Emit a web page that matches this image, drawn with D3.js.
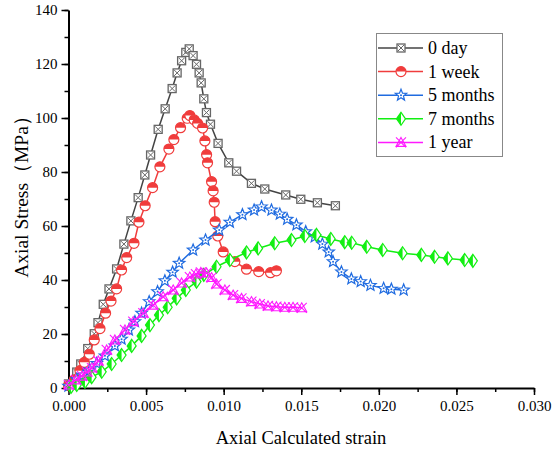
<!DOCTYPE html>
<html>
<head>
<meta charset="utf-8">
<script src="https://cdn.jsdelivr.net/npm/d3@7"></script>
<style>
  html, body { margin: 0; padding: 0; background: #fff; }
  svg { display: block; }
  text { font-family: "Liberation Serif", "Times New Roman", serif; fill: #000; }
</style>
</head>
<body>
<svg id="chart" width="552" height="452"></svg>
<script>
// Stress-strain curves of specimens at different ages
const seriesNames = ["0 day", "1 week", "5 months", "7 months", "1 year"];

const strain0d = [0, 0.00053, 0.00079, 0.00124, 0.00166, 0.00190, 0.00224, 0.00261, 0.00310, 0.00357, 0.00402, 0.00449, 0.00492, 0.00529, 0.00578, 0.00623, 0.00668, 0.00700, 0.00729, 0.00756, 0.00778, 0.00803, 0.00825, 0.00842, 0.00855, 0.00872, 0.00889, 0.00915, 0.00964, 0.01033, 0.01083, 0.01179, 0.01265, 0.01400, 0.01497, 0.01604, 0.01720];
const stress0d = [1.5, 5.9, 8.9, 14.6, 20.1, 24.2, 31.0, 36.7, 44.1, 53.3, 61.9, 70.5, 78.9, 86.3, 95.8, 103.4, 110.9, 116.7, 121.2, 124.3, 125.6, 123.1, 119.9, 116.7, 113.0, 107.1, 102.0, 97.7, 90.6, 83.4, 80.3, 75.8, 73.7, 71.5, 69.9, 68.6, 67.5];

const strain1w = [0, 0.00037, 0.00074, 0.00102, 0.00134, 0.00166, 0.00203, 0.00239, 0.00274, 0.00310, 0.00342, 0.00375, 0.00422, 0.00454, 0.00494, 0.00542, 0.00589, 0.00647, 0.00679, 0.00722, 0.00765, 0.00782, 0.00810, 0.00832, 0.00864, 0.00879, 0.00890, 0.00896, 0.00922, 0.00932, 0.00939, 0.00945, 0.00962, 0.00997, 0.01072, 0.01147, 0.01226, 0.01302, 0.01340];
const stress1w = [0.9, 3.0, 6.4, 9.5, 12.5, 17.8, 22.0, 27.7, 32.2, 36.7, 43.7, 48.3, 53.6, 61.4, 67.5, 74.2, 81.9, 88.5, 92.0, 96.4, 99.9, 100.9, 99.3, 98.0, 96.3, 91.5, 86.4, 83.4, 76.4, 73.0, 68.8, 61.6, 56.3, 50.4, 46.8, 44.0, 43.1, 42.7, 43.4];

const strain5m = [0, 0.00053, 0.00095, 0.00138, 0.00182, 0.00235, 0.00299, 0.00342, 0.00389, 0.00428, 0.00471, 0.00520, 0.00574, 0.00621, 0.00671, 0.00713, 0.00803, 0.00883, 0.00971, 0.01040, 0.01121, 0.01196, 0.01244, 0.01308, 0.01362, 0.01409, 0.01469, 0.01529, 0.01587, 0.01636, 0.01677, 0.01705, 0.01759, 0.01823, 0.01883, 0.01946, 0.02031, 0.02081, 0.02160];
const stress5m = [0.7, 3.2, 4.8, 6.7, 9.1, 11.9, 15.6, 18.1, 21.5, 24.6, 27.7, 32.0, 35.7, 39.7, 42.9, 46.2, 51.1, 54.8, 58.5, 61.4, 64.2, 65.9, 67.1, 65.9, 64.4, 62.5, 60.4, 57.9, 56.0, 53.3, 50.4, 46.8, 43.0, 40.4, 39.4, 38.0, 36.9, 36.6, 36.3];

const strain7m = [0.00016, 0.00053, 0.00106, 0.00149, 0.00214, 0.00278, 0.00342, 0.00407, 0.00471, 0.00525, 0.00583, 0.00639, 0.00697, 0.00756, 0.00825, 0.00872, 0.00954, 0.01040, 0.01147, 0.01222, 0.01329, 0.01437, 0.01523, 0.01598, 0.01690, 0.01780, 0.01825, 0.01922, 0.02025, 0.02153, 0.02274, 0.02359, 0.02445, 0.02553, 0.02606];
const stress7m = [0.4, 1.1, 2.3, 4.0, 6.0, 8.9, 12.2, 15.6, 19.3, 23.3, 27.0, 29.9, 33.2, 36.3, 39.4, 41.9, 44.9, 47.4, 50.2, 51.7, 53.6, 54.8, 56.3, 56.7, 55.2, 54.0, 53.8, 52.3, 51.1, 49.9, 49.3, 48.6, 48.0, 47.4, 47.1];

const strain1y = [0.00003, 0.00048, 0.00087, 0.00119, 0.00151, 0.00192, 0.00246, 0.00299, 0.00364, 0.00417, 0.00482, 0.00546, 0.00610, 0.00675, 0.00729, 0.00782, 0.00821, 0.00853, 0.00890, 0.00922, 0.00954, 0.01008, 0.01061, 0.01115, 0.01179, 0.01233, 0.01286, 0.01340, 0.01394, 0.01447, 0.01503];
const stress1y = [1.1, 3.0, 4.4, 5.9, 7.4, 10.0, 14.1, 17.8, 21.5, 24.6, 27.7, 30.7, 33.8, 36.3, 38.9, 41.1, 42.2, 42.8, 42.6, 40.9, 38.5, 36.3, 34.4, 33.2, 32.0, 31.1, 30.4, 30.1, 29.9, 29.9, 29.7];

const xTicks = [0, 0.005, 0.010, 0.015, 0.020, 0.025, 0.030];
const yTicks = [0, 20, 40, 60, 80, 100, 120, 140];

const seriesColors = ["#555555", "#f03c3c", "#1f6be0", "#12ef12", "#ff1aff"];
const seriesMarkers = ["squareX", "halfCircle", "star", "halfDiamond", "crossTri"];
const seriesStrain = [strain0d, strain1w, strain5m, strain7m, strain1y];
const seriesStress = [stress0d, stress1w, stress5m, stress7m, stress1y];

const svg = d3.select("#chart");
const x = d3.scaleLinear().domain([0, 0.03]).range([68.5, 534]);
const y = d3.scaleLinear().domain([0, 140]).range([388, 10]);

// Minor ticks
const xMinor = d3.range(0, 0.0301, 0.0025);
const yMinor = d3.range(0, 141, 10);
svg.append("g").attr("transform", "translate(0,388)")
  .call(d3.axisBottom(x).tickValues(xMinor).tickSize(4).tickSizeOuter(0).tickFormat(""))
  .call(g => g.select(".domain").remove())
  .call(g => g.selectAll("line").attr("stroke-width", 1.5));
svg.append("g").attr("transform", "translate(68.5,0)")
  .call(d3.axisLeft(y).tickValues(yMinor).tickSize(4).tickSizeOuter(0).tickFormat(""))
  .call(g => g.select(".domain").remove())
  .call(g => g.selectAll("line").attr("stroke-width", 1.5));

// Major axes
const xAxis = svg.append("g").attr("transform", "translate(0,388)")
  .call(d3.axisBottom(x).tickValues(xTicks).tickSize(7).tickSizeOuter(0).tickPadding(5).tickFormat(d3.format(".3f")));
const yAxis = svg.append("g").attr("transform", "translate(68.5,0)")
  .call(d3.axisLeft(y).tickValues(yTicks).tickSize(7).tickSizeOuter(0).tickPadding(4).tickFormat(d3.format("d")));
[xAxis, yAxis].forEach(g => {
  g.select(".domain").attr("stroke-width", 2);
  g.selectAll(".tick line").attr("stroke-width", 1.5);
  g.selectAll(".tick text").style("font-family", "'Liberation Serif', serif").style("font-size", "15px").attr("fill", "#000");
});

// Axis titles
svg.append("text").attr("x", 301).attr("y", 444).attr("text-anchor", "middle")
  .style("font-size", "18.5px").text("Axial Calculated strain");
svg.append("text").attr("transform", "translate(28,192) rotate(-90)").attr("text-anchor", "middle")
  .style("font-size", "19.5px").text("Axial Stress（MPa）");

// Marker symbols
function drawMarker(g, type, color) {
  if (type === "squareX") {
    g.append("rect").attr("x", -4).attr("y", -4).attr("width", 8).attr("height", 8)
      .attr("fill", "#fff").attr("stroke", "#666").attr("stroke-width", 1.3);
    g.append("path").attr("d", "M-3,-3L3,3M-3,3L3,-3").attr("stroke", "#666").attr("stroke-width", 1);
  } else if (type === "halfCircle") {
    const r = 5;
    g.append("circle").attr("r", r).attr("fill", "#fff").attr("stroke", color).attr("stroke-width", 1.2);
    g.append("path").attr("d", `M${-r},0A${r},${r} 0 0 1 ${r},0Z`).attr("fill", color);
  } else if (type === "star") {
    const pts = d3.range(10).map(i => {
      const a = -Math.PI / 2 + i * Math.PI / 5;
      const rr = i % 2 === 0 ? 6 : 2.6;
      return [rr * Math.cos(a), rr * Math.sin(a)];
    });
    g.append("path").attr("d", "M" + pts.join("L") + "Z")
      .attr("fill", "#fff").attr("stroke", color).attr("stroke-width", 1.2);
    g.append("circle").attr("r", 1).attr("fill", color);
  } else if (type === "halfDiamond") {
    g.append("path").attr("d", "M0,-6.5L4.5,0L0,6.5L-4.5,0Z")
      .attr("fill", "#fff").attr("stroke", color).attr("stroke-width", 1.2);
    g.append("path").attr("d", "M0,-6.5L-4.5,0L0,6.5Z").attr("fill", color);
  } else if (type === "crossTri") {
    g.append("path").attr("d", "M-5,-5L5,5M-5,5L5,-5M0,-5L5,4L-5,4Z")
      .attr("fill", "none").attr("stroke", color).attr("stroke-width", 1.1);
  }
}

const line = d3.line().x(d => x(d[0])).y(d => y(d[1]));

seriesNames.forEach((name, i) => {
  const pts = seriesStrain[i].map((s, k) => [s, seriesStress[i][k]]);
  const g = svg.append("g");
  g.append("path").datum(pts).attr("d", line)
    .attr("fill", "none").attr("stroke", i === 0 ? "#444" : seriesColors[i]).attr("stroke-width", 1.5);
  pts.forEach(p => {
    const m = g.append("g").attr("transform", `translate(${x(p[0])},${y(p[1])})`);
    drawMarker(m, seriesMarkers[i], seriesColors[i]);
  });
});

// Legend
const legend = svg.append("g");
legend.append("rect").attr("x", 376.5).attr("y", 33.5).attr("width", 126).attr("height", 123)
  .attr("fill", "#fff").attr("stroke", "#888").attr("stroke-width", 1);
seriesNames.forEach((name, i) => {
  const cy = 48 + i * 23.6;
  legend.append("line").attr("x1", 378).attr("x2", 423).attr("y1", cy).attr("y2", cy)
    .attr("stroke", i === 0 ? "#444" : seriesColors[i]).attr("stroke-width", 1.5);
  const m = legend.append("g").attr("transform", `translate(401,${cy})`);
  drawMarker(m, seriesMarkers[i], seriesColors[i]);
  legend.append("text").attr("x", 428).attr("y", cy + 6).style("font-size", "18px").text(name);
});
</script>
</body>
</html>
